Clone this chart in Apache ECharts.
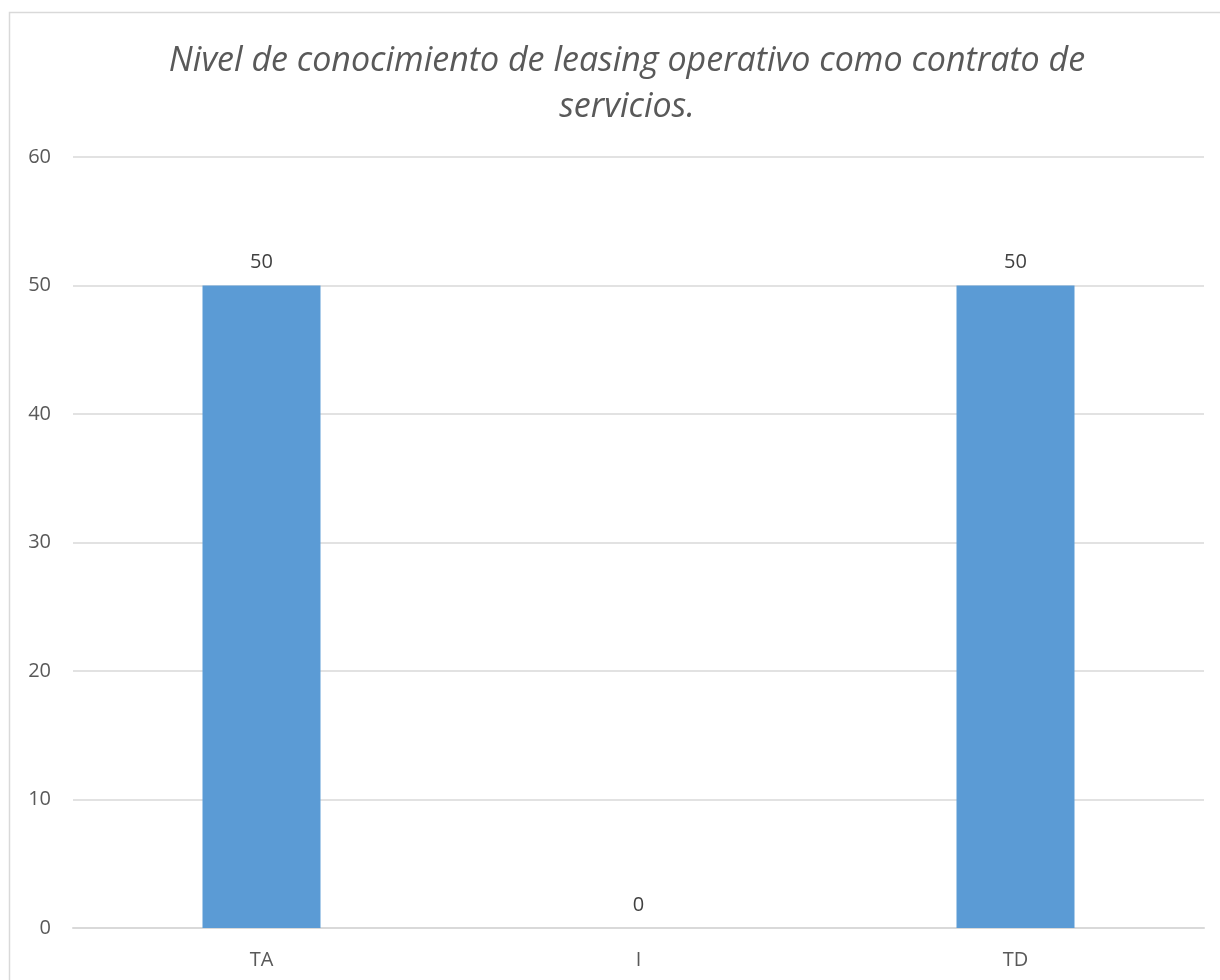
<!DOCTYPE html>
<html>
<head>
<meta charset="utf-8">
<script src="https://cdn.jsdelivr.net/npm/echarts@6/dist/echarts.min.js"></script>
<style>
  html, body { margin: 0; padding: 0; background: #fff; }
  #chart { width: 1220px; height: 980px; }
</style>
</head>
<body>
<div id="chart"></div>
<script>
// Response counts per answer option
const titleText = 'Nivel de conocimiento de leasing operativo como contrato de\nservicios.';
const categories = ['TA', 'I', 'TD'];
const values = [50, 0, 50];
const yTicks = { min: 0, max: 60, interval: 10 };

const chart = echarts.init(document.getElementById('chart'), null, { renderer: 'canvas' });
const font = '"Open Sans", "Noto Sans", sans-serif';

chart.setOption({
  animation: false,
  backgroundColor: '#ffffff',
  graphic: [{
    type: 'rect',
    shape: { x: 9.5, y: 12.5, width: 1240, height: 1000 },
    style: { fill: 'none', stroke: '#d9d9d9', lineWidth: 1.5 },
    silent: true
  }],
  title: {
    text: titleText,
    left: 622,
    top: 33,
    textAlign: 'center',
    textStyle: {
      fontFamily: font,
      fontStyle: 'italic',
      fontWeight: 'normal',
      fontSize: 34,
      lineHeight: 46,
      color: '#595959'
    }
  },
  grid: { left: 73, right: 16, top: 157, bottom: 52, containLabel: false },
  xAxis: {
    type: 'category',
    data: categories,
    axisLine: { show: true, lineStyle: { color: '#d9d9d9', width: 2 } },
    axisTick: { show: false },
    axisLabel: { color: '#595959', fontSize: 20, fontFamily: font, margin: 22 },
    splitLine: { show: false }
  },
  yAxis: {
    type: 'value',
    min: yTicks.min,
    max: yTicks.max,
    interval: yTicks.interval,
    axisLine: { show: false },
    axisTick: { show: false },
    axisLabel: { color: '#595959', fontSize: 20, fontFamily: font, margin: 22 },
    splitLine: { show: true, lineStyle: { color: '#d9d9d9', width: 1.5 } }
  },
  series: [{
    type: 'bar',
    data: values,
    barWidth: 118,
    itemStyle: { color: '#5b9bd5' },
    label: {
      show: true,
      position: 'top',
      distance: 13,
      color: '#404040',
      fontSize: 20,
      fontFamily: font
    }
  }]
});
</script>
</body>
</html>
